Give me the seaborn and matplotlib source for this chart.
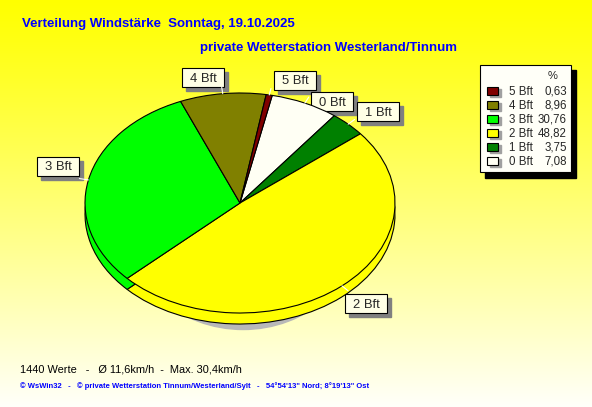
import numpy as np
import seaborn as sns
from matplotlib import pyplot as plt
from matplotlib.patches import Rectangle, Ellipse

# data
labels = ["0 Bft", "1 Bft", "2 Bft", "3 Bft", "4 Bft", "5 Bft"]
values = [7.08, 3.75, 48.82, 30.76, 8.96, 0.63]
colors = ["#FFFFF4", "#008000", "#FFFF00", "#00FF00", "#808000", "#800000"]
value_text = ["7,08", "3,75", "48,82", "30,76", "8,96", "0,63"]

title = "Verteilung Windstärke  Sonntag, 19.10.2025"
subtitle = "private Wetterstation Westerland/Tinnum"
info = "1440 Werte   -   Ø 11,6km/h  -  Max. 30,4km/h"
credit = "© WsWin32   -   © private Wetterstation Tinnum/Westerland/Sylt   -   54°54'13\" Nord; 8°19'13\" Ost"

# label box positions (pixels)
label_pos = {"4 Bft": (203, 77), "5 Bft": (295, 80), "0 Bft": (332, 101),
             "1 Bft": (378, 111), "3 Bft": (58, 166), "2 Bft": (366, 303)}

sns.set_theme(style="white")
plt.rcParams["font.family"] = ["Liberation Sans", "DejaVu Sans"]

W, H = 592, 407
fig = plt.figure(figsize=(W / 100, H / 100), dpi=100)

# background axes in pixel coordinates
bg = fig.add_axes([0, 0, 1, 1])
bg.set_xlim(0, W)
bg.set_ylim(H, 0)
bg.axis("off")
t = np.linspace(0, 1, 256)[:, None]
grad = np.zeros((256, 2, 3))
grad[..., 0] = 1.0
grad[..., 1] = 1.0
grad[..., 2] = (0.0 + 0.98 * t ** 1.1)
bg.imshow(grad, extent=[0, W, H, 0], aspect="auto", zorder=0)

bg.text(22, 24, title, color="#0000FF", fontsize=9.5, fontweight="bold", va="center", ha="left")
bg.text(200, 48, subtitle, color="#0000FF", fontsize=9.5, fontweight="bold", va="center", ha="left")
bg.text(20, 369, info, color="black", fontsize=7.9, va="center", ha="left")
bg.text(20, 386, credit, color="#0000FF", fontsize=5.5, fontweight="bold", va="center", ha="left")

# pie axes: ellipse center (240,203), rx=155, ry=110 px
cx, cy, rx, ry = 240, 203, 155, 110
x0, x1, y0, y1 = 78, 402, 86, 345
pie_ax = fig.add_axes([x0 / W, 1 - y1 / H, (x1 - x0) / W, (y1 - y0) / H])
pie_ax.patch.set_alpha(0)

pie_ax.add_patch(Ellipse((0.02, -0.2), 1.5, 1.9, color="#B8B8B8", zorder=0))
wp = dict(edgecolor="black", linewidth=0.8)
pie_ax.pie(values, colors=colors, startangle=78, counterclock=False,
           center=(0, -0.1), wedgeprops=wp)
wedges, _ = pie_ax.pie(values, colors=colors, startangle=78, counterclock=False,
                       center=(0, 0), wedgeprops=wp)
pie_ax.set_aspect("auto")
pie_ax.set_xlim((x0 - cx) / rx, (x1 - cx) / rx)
pie_ax.set_ylim((cy - y1) / ry, (cy - y0) / ry)
pie_ax.axis("off")

# leader ticks
for w in wedges:
    th = np.deg2rad((w.theta1 + w.theta2) / 2)
    pie_ax.plot([np.cos(th), 1.06 * np.cos(th)], [np.sin(th), 1.06 * np.sin(th)],
                color="white", lw=0.8, zorder=5)

# label boxes
for lab in labels:
    px, py = label_pos[lab]
    bg.add_patch(Rectangle((px - 21 + 4, py - 9.5 + 4), 42, 19, color="#808080", zorder=6))
    bg.add_patch(Rectangle((px - 21, py - 9.5), 42, 19, facecolor="#FFFFE6",
                           edgecolor="black", lw=0.8, zorder=7))
    bg.text(px, py + 1.5, lab, fontsize=9.4, ha="center", va="center", zorder=8)

# legend
bg.add_patch(Rectangle((485, 70), 91, 108, color="black", zorder=6))
bg.add_patch(Rectangle((480, 65), 91, 107, facecolor="#FFFFF8", edgecolor="black", lw=0.8, zorder=7))
bg.text(553, 76, "%", fontsize=8, ha="center", va="center", zorder=8)
for i, k in enumerate(range(len(labels) - 1, -1, -1)):
    yy = 91 + 14 * i
    bg.add_patch(Rectangle((490, yy - 2), 11, 8, color="#A0A0A0", zorder=8))
    bg.add_patch(Rectangle((487, yy - 4), 11, 8, facecolor=colors[k], edgecolor="black", lw=0.8, zorder=9))
    bg.text(509, yy + 1, labels[k], fontsize=8.3, ha="left", va="center", zorder=9)
    bg.text(567, yy + 1, value_text[k], fontsize=8.3, ha="right", va="center", zorder=9)

plt.savefig("out.png", dpi=100)
